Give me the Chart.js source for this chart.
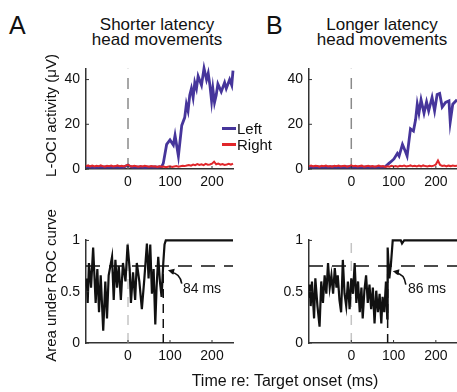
<!DOCTYPE html>
<html>
<head>
<meta charset="utf-8">
<script src="https://cdn.jsdelivr.net/npm/chart.js@4.4.0/dist/chart.umd.min.js"></script>
<style>
  body { margin: 0; width: 457px; height: 392px; overflow: hidden; background: #fff; position: relative;
         font-family: "Liberation Sans", Arial, sans-serif; color: #111; }
  canvas { position: absolute; }
  .t { position: absolute; line-height: 1; white-space: nowrap; z-index: 2; }
  .ttl { position: absolute; width: 200px; text-align: center; font-size: 17px; line-height: 15.3px; z-index: 2; }
  .key { position: absolute; width: 14px; height: 2.5px; z-index: 2; }
  .yt { position: absolute; width: 200px; height: 15px; line-height: 15px; text-align: center; font-size: 15px;
        white-space: nowrap; transform: rotate(-90deg); transform-origin: 50% 50%; z-index: 2; }
</style>
</head>
<body>
<div class="t" style="left:9px;top:13px;font-size:25px">A</div>
<div class="t" style="left:266px;top:13px;font-size:25px">B</div>
<div class="ttl" style="left:57px;top:17px">Shorter latency<br>head movements</div>
<div class="ttl" style="left:282px;top:17px">Longer latency<br>head movements</div>

<div class="yt" style="left:-50px;top:107.5px">L-OCI activity (μV)</div>
<div class="yt" style="left:-50px;top:278px">Area under ROC curve</div>

<div class="key" style="left:222px;top:127px;background:#46359b"></div>
<div class="t" style="left:237px;top:121.4px;font-size:15px">Left</div>
<div class="key" style="left:222px;top:143px;background:#e0262a"></div>
<div class="t" style="left:237px;top:137.4px;font-size:15px">Right</div>

<div class="t" style="left:183px;top:281px;font-size:14px">84 ms</div>
<div class="t" style="left:408px;top:281px;font-size:14px">86 ms</div>
<div class="t" style="left:135px;top:373px;width:300px;text-align:center;font-size:16px">Time re: Target onset (ms)</div>

<canvas id="aTop"></canvas>
<canvas id="bTop"></canvas>
<canvas id="aBot"></canvas>
<canvas id="bBot"></canvas>

<script>
// ---- data ----
const xTicks = [0, 100, 200];
const actTicks = [0, 20, 40];
const rocTicks = [0, 0.5, 1];
const rocTickLabels = ["0", "0.5", "1"];

// right-side (red) trace, common 5 ms grid
const redT = [-100,-95,-90,-85,-80,-75,-70,-65,-60,-55,
              -50,-45,-40,-35,-30,-25,-20,-15,-10,-5,
              0,5,10,15,20,25,30,35,40,45,
              50,55,60,65,70,75,80,85,90,95,
              100,105,110,115,120,125,130,135,140,145,
              150,155,160,165,170,175,180,185,190,195,
              200,205,210,215,220,225,230,235,240,245,
              250];
const redA = [1.3,1.6,1.2,1.5,1.1,1.4,1.2,1.6,1.3,1.0,
              1.4,1.2,1.5,1.1,1.3,1.6,1.2,1.4,1.1,1.5,
              1.9,1.3,1.1,1.4,1.2,1.0,1.3,1.1,1.4,1.2,
              1.0,1.3,1.1,1.2,0.9,1.2,1.0,1.1,0.8,1.0,
              1.2,0.9,1.1,1.3,1.0,1.2,1.4,1.3,1.6,1.8,
              1.5,2.0,1.7,2.2,1.8,2.1,1.7,2.3,1.9,2.0,
              2.4,3.3,2.1,2.4,1.9,2.2,1.8,2.0,2.3,1.9,
              2.4];
const redB = [1.2,1.5,1.1,1.4,1.3,1.0,1.4,1.2,1.5,1.1,
              1.3,1.0,1.4,1.2,1.5,1.1,1.3,1.4,1.0,1.3,
              1.6,1.2,1.4,1.1,1.3,1.5,1.0,1.2,1.4,1.1,
              1.3,1.0,1.2,1.5,1.1,1.3,0.9,1.2,1.0,1.4,
              1.1,1.3,1.0,1.4,1.2,1.5,1.1,1.3,1.6,1.2,
              1.4,1.1,1.5,1.2,1.6,1.3,1.1,1.4,1.2,1.5,
              2.0,3.8,1.8,1.4,1.6,1.2,1.5,1.3,1.6,1.4,
              1.5];

// left-side (blue) trace
const blueAT = [-100,-90,-80,-70,-60,-50,-40,-30,-20,-10,0,5,10,20,30,40,50,60,70,80,
                84,92,100,108,112,120,124,128,135,139,143,147,151,155,159,163,167,175,181,187,
                191,195,199,202,206,210,214,222,230,234,242,247,250];
const blueA = [0.8,0.9,0.7,0.9,0.8,1.0,0.8,0.9,1.0,0.9,1.8,1.2,0.9,0.8,0.9,0.7,0.8,0.9,0.8,1.0,
               2.5,11,13,10.7,15,5.8,12.7,19.5,23,29,26,33,36,32,38.7,36,41.5,37.5,45,40,
               42.8,37.5,30.5,36,29.8,33,38,34.6,38.7,36,40,37.5,44];
const blueBT = [-100,-80,-60,-40,-20,0,20,40,60,80,
                89,95,101,109,113,121,128,132,140,147,152,156,160,165,172,178,183,191,197,203,
                209,215,223,231,234,240,250];
const blueB = [0.8,0.9,0.8,1.0,0.9,1.0,0.8,0.9,0.8,1.0,
               2.5,3.5,4.5,7,5.8,11,7.8,5.8,18,17,22,29,25,31,25,30,26,32,26,33.3,
               33.8,27.7,29.8,30.5,21,29,31];

// area under ROC curve
const rocAT = [-100,-98,-96,-93,-88,-83,-77,-73,-69,-65,-59,-54,-50,-46,-38,-34,-30,-26,-22,-17,
               -12,-6,-1,4,7,12,17,21,27,33,39,45,49,53,57,61,65,68,72,76,80,84,87,90,250];
const rocA = [0.55,0.63,0.39,0.78,0.54,0.93,0.39,0.72,0.3,0.66,0.12,0.6,0.24,0.66,0.84,0.42,0.81,0.54,0.75,0.42,
              0.78,0.6,0.96,0.72,0.39,0.69,0.42,0.78,0.6,0.33,0.63,0.97,0.63,0.96,0.48,0.72,0.18,0.54,0.84,0.6,
              0.45,0.78,0.96,1.0,1.0];
const rocBT = [-100,-98,-96,-93,-88,-85,-80,-75,-71,-67,-63,-59,-55,-51,-47,-43,-39,-35,-32,-28,
               -24,-20,-16,-12,-8,-4,0,4,8,12,16,20,24,27,31,35,39,43,47,51,
               55,59,63,67,71,74,78,82,85,86,90,94,98,117,120,125,250];
const rocB = [0.45,0.57,0.36,0.6,0.24,0.63,0.36,0.16,0.6,0.39,0.66,0.48,0.78,0.54,0.66,0.48,0.73,0.54,0.66,0.42,
              0.3,0.81,0.48,0.36,0.6,0.33,0.63,0.48,0.78,0.39,0.6,0.3,0.54,0.24,0.51,0.66,0.39,0.57,0.33,0.54,
              0.19,0.51,0.3,0.48,0.19,0.45,0.3,0.6,0.24,0.93,0.63,0.78,1.0,1.0,0.97,1.0,1.0];

const criterion = 0.75;
const latencyA = 84;
const latencyB = 86;

// ---- drawing ----
const FONT = "'Liberation Sans', Arial, sans-serif";
const BLUE = "#46359b", RED = "#e0262a";

const pts = (t, v) => t.map((x, i) => ({ x: x, y: v[i] }));

const inwardTicks = {
  id: "inwardTicks",
  afterDatasetsDraw(chart) {
    const { ctx, chartArea: a, scales: { x, y } } = chart;
    ctx.save();
    ctx.strokeStyle = "#333";
    ctx.lineWidth = 1;
    ctx.beginPath();
    x.ticks.forEach((t) => {
      const px = x.getPixelForValue(t.value);
      ctx.moveTo(px, a.bottom); ctx.lineTo(px, a.bottom - 3);
    });
    y.ticks.forEach((t) => {
      const py = y.getPixelForValue(t.value);
      ctx.moveTo(a.left, py); ctx.lineTo(a.left + 3, py);
    });
    ctx.stroke();
    ctx.restore();
  },
};

const arrowNote = {
  id: "arrowNote",
  afterDatasetsDraw(chart, args, opts) {
    if (!opts || !opts.tip) return;
    const { ctx, scales: { x, y } } = chart;
    const P = (p) => [x.getPixelForValue(p[0]), y.getPixelForValue(p[1])];
    const [tx, ty] = P(opts.tail), [cx, cy] = P(opts.ctrl), [hx, hy] = P(opts.tip);
    ctx.save();
    ctx.strokeStyle = "#111";
    ctx.fillStyle = "#111";
    ctx.lineWidth = 1.6;
    ctx.beginPath();
    ctx.moveTo(tx, ty);
    ctx.quadraticCurveTo(cx, cy, hx + 3, hy + 2);
    ctx.stroke();
    const ang = Math.atan2(hy - cy, hx - cx);
    ctx.beginPath();
    ctx.moveTo(hx, hy);
    ctx.lineTo(hx - 7 * Math.cos(ang - 0.45), hy - 7 * Math.sin(ang - 0.45));
    ctx.lineTo(hx - 7 * Math.cos(ang + 0.45), hy - 7 * Math.sin(ang + 0.45));
    ctx.closePath();
    ctx.fill();
    ctx.restore();
  },
};

function panel(id, box, datasets, yCfg, arrow) {
  const c = document.getElementById(id);
  const w = box.right - box.left, h = box.bottom - box.top;
  c.width = w + 66; c.height = h + 36;
  c.style.left = (box.left - 60) + "px";
  c.style.top = (box.top - 6) + "px";
  return new Chart(c, {
    type: "line",
    data: { datasets: datasets },
    plugins: [inwardTicks, arrowNote],
    options: {
      responsive: false,
      animation: false,
      layout: { padding: { top: 6, right: 6, left: 0, bottom: 0 } },
      plugins: { legend: { display: false }, tooltip: { enabled: false }, arrowNote: arrow || {} },
      elements: { point: { radius: 0 }, line: { tension: 0 } },
      scales: {
        x: {
          type: "linear", min: -100, max: 250,
          afterFit: (s) => { s.height = 30; },
          afterBuildTicks: (s) => { s.ticks = xTicks.map((v) => ({ value: v })); },
          grid: { drawOnChartArea: false, drawTicks: false },
          border: { color: "#333", width: 1.5 },
          ticks: { padding: 5, color: "#111", maxRotation: 0, autoSkip: false,
                   font: { size: 14, family: FONT } },
        },
        y: {
          type: "linear", min: yCfg.min, max: yCfg.max,
          afterFit: (s) => { s.width = 60; },
          afterBuildTicks: (s) => { s.ticks = yCfg.ticks.map((v) => ({ value: v })); },
          grid: { drawOnChartArea: false, drawTicks: false },
          border: { color: "#333", width: 1.5 },
          ticks: { padding: 6, color: "#111", autoSkip: false, font: { size: 14, family: FONT },
                   callback: (v) => yCfg.labels[yCfg.ticks.indexOf(v)] },
        },
      },
    },
  });
}

function actSets(red, blue, blueT) {
  return [
    { data: pts(redT, red), borderColor: RED, borderWidth: 2, clip: false },
    { data: pts(blueT, blue), borderColor: BLUE, borderWidth: 2.8, clip: false },
    { data: [{ x: 0, y: 0 }, { x: 0, y: 45 }], borderColor: "#8a8a8a", borderWidth: 1.5, borderDash: [11, 9] },
  ];
}
function rocSets(t, v, lat) {
  return [
    { data: pts(t, v), borderColor: "#111", borderWidth: 2.2, clip: false },
    { data: [{ x: -100, y: criterion }, { x: 250, y: criterion }], borderColor: "#111", borderWidth: 1.5, borderDash: [14, 9] },
    { data: [{ x: lat, y: 0 }, { x: lat, y: criterion }], borderColor: "#111", borderWidth: 1.5, borderDash: [9, 6] },
    { data: [{ x: 0, y: 0 }, { x: 0, y: 1 }], borderColor: "#c4c4c4", borderWidth: 1.5, borderDash: [10, 8] },
  ];
}

const actY = { min: 0, max: 45, ticks: actTicks, labels: actTicks.map(String) };
const rocY = { min: 0, max: 1.01, ticks: rocTicks, labels: rocTickLabels };

panel("aTop", { left: 86, right: 233, top: 60, bottom: 169 }, actSets(redA, blueA, blueAT), actY);
panel("bTop", { left: 309, right: 457, top: 60, bottom: 169 }, actSets(redB, blueB, blueBT), actY);
panel("aBot", { left: 86, right: 233, top: 231, bottom: 343 }, rocSets(rocAT, rocA, latencyA), rocY,
      { tail: [128, 0.58], ctrl: [124, 0.68], tip: [95, 0.71] });
panel("bBot", { left: 309, right: 457, top: 231, bottom: 343 }, rocSets(rocBT, rocB, latencyB), rocY,
      { tail: [129, 0.57], ctrl: [125, 0.68], tip: [98, 0.70] });
</script>
</body>
</html>
